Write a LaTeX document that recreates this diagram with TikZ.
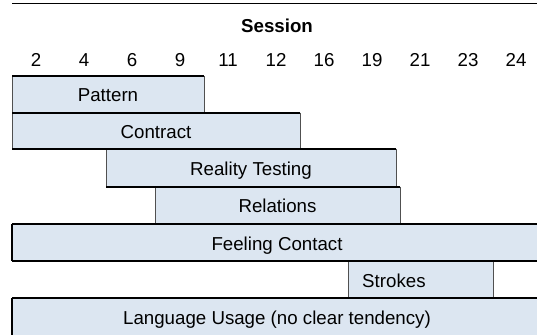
\documentclass[tikz,border=0pt]{standalone}
\usepackage{fontspec}
\setmainfont{Liberation Sans}
\definecolor{barfill}{HTML}{DCE6F1}
\definecolor{sidegray}{HTML}{505050}
\tikzset{
  barbox/.style={fill=barfill, draw=none},
  hline/.style={draw=black, line width=2pt},
  vline/.style={draw=sidegray, line width=1pt},
  vlinedark/.style={draw=black, line width=1.6pt},
  lab/.style={anchor=base, inner sep=0pt, font=\fontsize{18.7}{22}\selectfont},
  numlab/.style={anchor=base, inner sep=0pt, font=\fontsize{18.7}{22}\selectfont},
}
\begin{document}
\begin{tikzpicture}[x=1pt, y=-1pt]
\useasboundingbox (0,0) rectangle (537,334);
\clip (0,0) rectangle (537,334);
% top rule
\draw[black, line width=1pt] (12,4) -- (542,4);
% title
\node[lab, font=\fontsize{18.7}{22}\selectfont\bfseries] (session) at (277,33) {Session};
% session numbers
\foreach \n [count=\i from 0] in {2,4,6,9,11,12,16,19,21,23,24} {
  \node[numlab] (num\i) at ({36+48*\i},66.5) {\n};
}
% bars: fills
\fill[barbox] (12,76.5) rectangle (204,112.7);
\fill[barbox] (12,112.7) rectangle (300,149.3);
\fill[barbox] (106,149.3) rectangle (396,186.7);
\fill[barbox] (155,186.7) rectangle (400,224);
\fill[barbox] (12,224) rectangle (542,261.3);
\fill[barbox] (348,261.3) rectangle (493,298);
\fill[barbox] (12,298) rectangle (542,340);
% side lines
\draw[vline] (12,76.5) -- (12,112.7);
\draw[vline] (204,76.5) -- (204,112.7);
\draw[vline] (12,112.7) -- (12,149.3);
\draw[vline] (300,112.7) -- (300,149.3);
\draw[vline] (106,149.3) -- (106,186.7);
\draw[vline] (396,149.3) -- (396,186.7);
\draw[vline] (155,186.7) -- (155,224);
\draw[vline] (400,186.7) -- (400,224);
\draw[vlinedark] (12,224) -- (12,261.3);
\draw[vline] (348,261.3) -- (348,298);
\draw[vline] (493,261.3) -- (493,298);
\draw[vlinedark] (12,298) -- (12,340);
% horizontal lines
\draw[hline] (12,76.5) -- (204,76.5);
\draw[hline] (12,112.7) -- (300,112.7);
\draw[hline] (12,149.3) -- (396,149.3);
\draw[hline] (106,186.7) -- (400,186.7);
\draw[hline] (12,224) -- (542,224);
\draw[hline] (12,261.3) -- (542,261.3);
\draw[hline] (12,298) -- (542,298);
% labels
\node[lab] (pattern) at (108,101.7) {Pattern};
\node[lab] (contract) at (156,138.5) {Contract};
\node[lab] (reality) at (251,175.5) {Reality Testing};
\node[lab] (relations) at (277.5,212.8) {Relations};
\node[lab] (feeling) at (277,250) {Feeling Contact};
\node[lab, anchor=base west] (strokes) at (362,287) {Strokes};
\node[lab] (language) at (277,324.3) {Language Usage (no clear tendency)};
\end{tikzpicture}
\end{document}
